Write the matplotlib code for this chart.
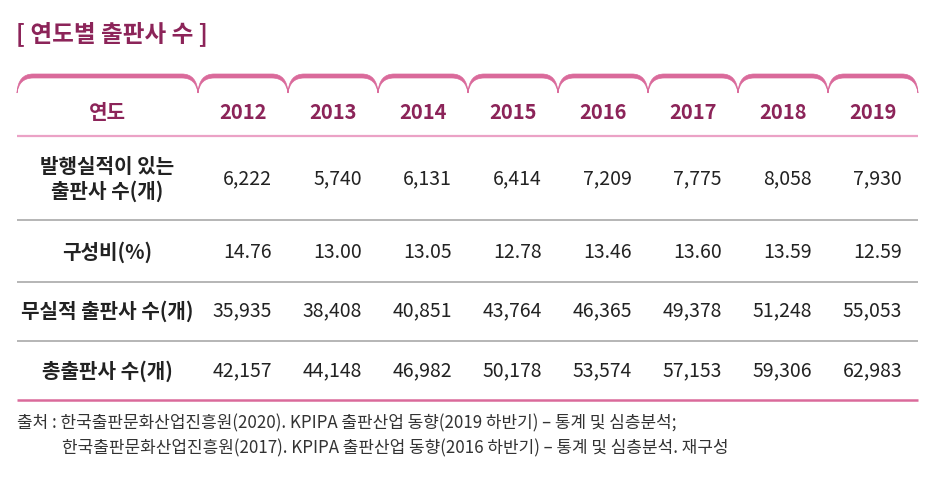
import matplotlib
matplotlib.use("Agg")
import matplotlib.pyplot as plt
from matplotlib.path import Path
from matplotlib.patches import PathPatch

plt.rcParams['font.family'] = ['Noto Sans CJK KR', 'DejaVu Sans']

# data
title = "[ 연도별 출판사 수 ]"
years = ["2012", "2013", "2014", "2015", "2016", "2017", "2018", "2019"]
row_labels = ["발행실적이 있는\n출판사 수(개)", "구성비(%)", "무실적 출판사 수(개)", "총출판사 수(개)"]
active = ["6,222", "5,740", "6,131", "6,414", "7,209", "7,775", "8,058", "7,930"]
ratio = ["14.76", "13.00", "13.05", "12.78", "13.46", "13.60", "13.59", "12.59"]
inactive = ["35,935", "38,408", "40,851", "43,764", "46,365", "49,378", "51,248", "55,053"]
total = ["42,157", "44,148", "46,982", "50,178", "53,574", "57,153", "59,306", "62,983"]
rows = [active, ratio, inactive, total]
source = ["출처 : 한국출판문화산업진흥원(2020). KPIPA 출판산업 동향(2019 하반기) – 통계 및 심층분석;",
          "한국출판문화산업진흥원(2017). KPIPA 출판산업 동향(2016 하반기) – 통계 및 심층분석. 재구성"]

# layout (pixels)
W, H = 950, 486
col_edges = [17, 198, 288, 378, 468, 558, 648, 738, 828, 918]
row_y = [179, 252, 311, 371]
sep_y = [220, 282, 341]

tab_pink = "#DA6A9B"
light_pink = "#EBA2C6"
head_col = "#8C2459"
text_col = "#222222"

fig = plt.figure(figsize=(W / 100, H / 100), dpi=100)
ax = fig.add_axes([0, 0, 1, 1])
ax.set_xlim(0, W)
ax.set_ylim(H, 0)
ax.axis("off")

ax.text(16, 34, title, fontsize=17, fontweight="bold", color=head_col,
        va="center", ha="left")


def tab(a, b, r=16, top=74, th=4, bot=93):
    verts = [(a, bot), (a + 1, top), (a + r, top), (b - r, top),
             (b - 1, top), (b, bot),
             (b - 2, top + th), (b - r, top + th), (a + r, top + th),
             (a + 2, top + th), (a, bot), (a, bot)]
    codes = [Path.MOVETO, Path.CURVE3, Path.CURVE3, Path.LINETO,
             Path.CURVE3, Path.CURVE3,
             Path.CURVE3, Path.CURVE3, Path.LINETO,
             Path.CURVE3, Path.CURVE3, Path.CLOSEPOLY]
    ax.add_patch(PathPatch(Path(verts, codes), facecolor=tab_pink,
                           edgecolor=tab_pink, lw=0.5))


for a, b in zip(col_edges[:-1], col_edges[1:]):
    tab(a, b)

# header
ax.text((col_edges[0] + col_edges[1]) / 2, 112, "연도", fontsize=14.5,
        fontweight="bold", color=head_col, ha="center", va="center")
for i, yr in enumerate(years):
    cx = (col_edges[i + 1] + col_edges[i + 2]) / 2
    ax.text(cx, 112, yr, fontsize=14.5, fontweight="bold", color=head_col,
            ha="center", va="center")
ax.plot([17, 918], [136, 136], color=light_pink, lw=1.6, solid_capstyle="butt")

# body
for r, (lab, vals) in enumerate(zip(row_labels, rows)):
    y = row_y[r]
    ax.text((col_edges[0] + col_edges[1]) / 2, y, lab, fontsize=14.5,
            fontweight="bold", color=text_col, ha="center", va="center",
            linespacing=1.2)
    for i, v in enumerate(vals):
        ax.text(col_edges[i + 2] - 16, y, v, fontsize=14, color=text_col,
                ha="right", va="center")

for y in sep_y:
    ax.plot([17, 918], [y, y], color="#B5B5B5", lw=1.4, solid_capstyle="butt")
ax.plot([17, 918], [400, 400], color=tab_pink, lw=1.8, solid_capstyle="butt")

# source
ax.text(17, 423, source[0], fontsize=12.2, color="#333333", ha="left", va="center")
ax.text(62, 448, source[1], fontsize=12.2, color="#333333", ha="left", va="center")

fig.savefig("out.png", dpi=100)
